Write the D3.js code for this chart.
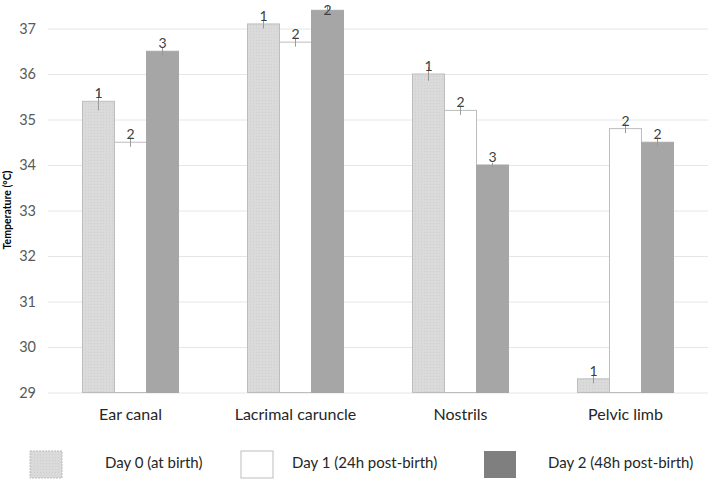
<!DOCTYPE html>
<html>
<head>
<meta charset="utf-8">
<script src="https://cdn.jsdelivr.net/npm/d3@7"></script>
<style>
  body { margin: 0; background: #fff; }
  svg { font-family: Lato, "Open Sans", sans-serif; }
</style>
</head>
<body>
<div class="chart"></div>
<script>
const categories = ["Ear canal", "Lacrimal caruncle", "Nostrils", "Pelvic limb"];
const seriesNames = ["Day 0 (at birth)", "Day 1 (24h post-birth)", "Day 2 (48h post-birth)"];
const day0 = [35.4, 37.1, 36.0, 29.3];
const day1 = [34.5, 36.7, 35.2, 34.8];
const day2 = [36.5, 37.4, 34.0, 34.5];
const err0 = [0.2, 0.1, 0.15, 0.1];
const err1 = [0.1, 0.1, 0.1, 0.1];
const err2 = [0.1, 0.1, 0.05, 0.1];
const labels0 = ["1", "1", "1", "1"];
const labels1 = ["2", "2", "2", "2"];
const labels2 = ["3", "2", "3", "2"];
const yTicks = [29, 30, 31, 32, 33, 34, 35, 36, 37];

const series = [
  { name: seriesNames[0], values: day0, errs: err0, labels: labels0 },
  { name: seriesNames[1], values: day1, errs: err1, labels: labels1 },
  { name: seriesNames[2], values: day2, errs: err2, labels: labels2 }
];

const W = 708, H = 479;
const svg = d3.select(".chart").append("svg")
  .attr("width", W).attr("height", H);

const defs = svg.append("defs");
const pat = defs.append("pattern")
  .attr("id", "dots").attr("width", 3).attr("height", 3)
  .attr("patternUnits", "userSpaceOnUse");
pat.append("rect").attr("width", 3).attr("height", 3).attr("fill", "#dadada");
pat.append("rect").attr("x", 1).attr("y", 1).attr("width", 1).attr("height", 1).attr("fill", "#cfcfcf");

const fills = ["url(#dots)", "#ffffff", "#a6a6a6"];
const strokes = ["#bdbdbd", "#bdbdbd", "#a6a6a6"];
const legendFills = ["url(#dots)", "#ffffff", "#7f7f7f"];

const y = d3.scaleLinear().domain([29, 37]).range([392.5, 28.5]);
const x = d3.scaleBand().domain(categories).range([48, 708]).paddingInner(0.418).paddingOuter(0.209);
const xs = d3.scaleBand().domain([0, 1, 2]).range([0, x.bandwidth()]);

// grid
svg.append("g").selectAll("line").data(yTicks).enter().append("line")
  .attr("x1", 48).attr("x2", 708)
  .attr("y1", d => y(d) + 0.5).attr("y2", d => y(d) + 0.5)
  .attr("stroke", "#e6e6e6").attr("stroke-width", 1);

// y tick labels
svg.append("g").selectAll("text").data(yTicks).enter().append("text")
  .attr("x", 36).attr("y", d => y(d)).attr("dy", "0.35em")
  .attr("text-anchor", "end").attr("font-size", 14.5).attr("fill", "#595959")
  .text(d => d);

// y label
svg.append("text")
  .attr("transform", "translate(11,210) rotate(-90)")
  .attr("text-anchor", "middle").attr("font-size", 10.5).attr("font-weight", "bold")
  .attr("fill", "#000").text("Temperature (°C)");

// bars
series.forEach((s, si) => {
  const g = svg.append("g");
  g.selectAll("rect").data(categories).enter().append("rect")
    .attr("x", (c) => x(c) + xs(si))
    .attr("width", xs.bandwidth())
    .attr("y", (c, i) => y(s.values[i]))
    .attr("height", (c, i) => y(29) - y(s.values[i]))
    .attr("fill", fills[si])
    .attr("stroke", strokes[si]).attr("stroke-width", 1);

  g.selectAll("line").data(categories).enter().append("line")
    .attr("x1", c => x(c) + xs(si) + xs.bandwidth() / 2)
    .attr("x2", c => x(c) + xs(si) + xs.bandwidth() / 2)
    .attr("y1", (c, i) => y(s.values[i] + s.errs[i]))
    .attr("y2", (c, i) => y(s.values[i] - s.errs[i]))
    .attr("stroke", "#9a9a9a").attr("stroke-width", 1);

  // labels sit just above the bar, kept inside the frame
  g.selectAll("text").data(categories).enter().append("text")
    .attr("x", c => x(c) + xs(si) + xs.bandwidth() / 2)
    .attr("y", (c, i) => Math.max(y(s.values[i]) - 3, 15))
    .attr("text-anchor", "middle").attr("font-size", 14).attr("fill", "#404040")
    .text((c, i) => s.labels[i]);
});

// category labels
svg.append("g").selectAll("text").data(categories).enter().append("text")
  .attr("x", c => x(c) + x.bandwidth() / 2)
  .attr("y", 420)
  .attr("text-anchor", "middle").attr("font-size", 16).attr("fill", "#262626")
  .text(d => d);

// legend
const legX = [30, 241, 484];
const legTextX = [105, 292, 548];
const leg = svg.append("g");
seriesNames.forEach((n, i) => {
  leg.append("rect")
    .attr("x", legX[i]).attr("y", 451).attr("width", 32).attr("height", 27)
    .attr("fill", legendFills[i])
    .attr("stroke", i === 2 ? "none" : "#bdbdbd")
    .attr("stroke-dasharray", i === 0 ? "2,1" : null);
  leg.append("text")
    .attr("x", legTextX[i]).attr("y", 463).attr("dy", "0.35em")
    .attr("font-size", 15).attr("fill", "#262626").text(n);
});
</script>
</body>
</html>
